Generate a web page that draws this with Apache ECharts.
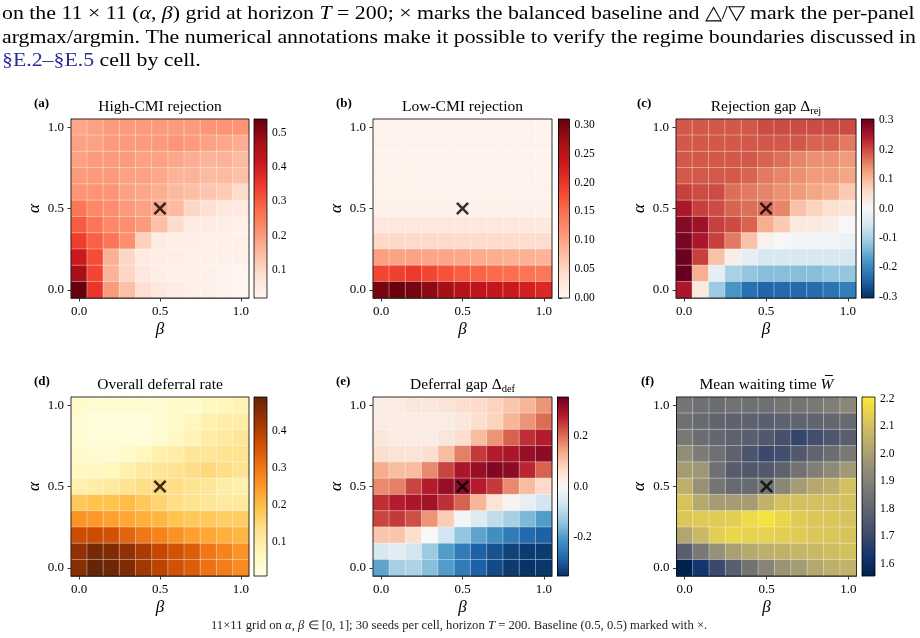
<!DOCTYPE html>
<html>
<head>
<meta charset="utf-8">
<script src="https://cdn.jsdelivr.net/npm/echarts@6/dist/echarts.min.js"></script>
<style>
  html, body { margin: 0; padding: 0; background: #fff; }
  #chart { width: 920px; height: 638px; }
</style>
</head>
<body>
<div id="chart"></div>
<script>
const ticks = ['0.0', '0.1', '0.2', '0.3', '0.4', '0.5', '0.6', '0.7', '0.8', '0.9', '1.0'];

// every matrix: rows from alpha = 1.0 (top) down to alpha = 0.0, columns beta = 0.0 .. 1.0
const highCmi = [
  [0.18, 0.19, 0.20, 0.20, 0.20, 0.20, 0.20, 0.20, 0.21, 0.21, 0.21],
  [0.19, 0.19, 0.20, 0.20, 0.20, 0.20, 0.21, 0.20, 0.19, 0.18, 0.17],
  [0.19, 0.20, 0.20, 0.20, 0.19, 0.19, 0.18, 0.17, 0.16, 0.16, 0.15],
  [0.20, 0.20, 0.20, 0.19, 0.19, 0.18, 0.16, 0.16, 0.15, 0.15, 0.14],
  [0.21, 0.21, 0.21, 0.19, 0.18, 0.17, 0.15, 0.14, 0.13, 0.12, 0.09],
  [0.26, 0.23, 0.22, 0.20, 0.19, 0.18, 0.15, 0.10, 0.08, 0.06, 0.05],
  [0.30, 0.26, 0.23, 0.22, 0.20, 0.14, 0.09, 0.05, 0.05, 0.04, 0.03],
  [0.34, 0.29, 0.26, 0.22, 0.11, 0.05, 0.04, 0.04, 0.035, 0.03, 0.03],
  [0.41, 0.32, 0.165, 0.10, 0.05, 0.04, 0.04, 0.035, 0.03, 0.03, 0.03],
  [0.47, 0.33, 0.16, 0.10, 0.06, 0.04, 0.03, 0.03, 0.03, 0.025, 0.02],
  [0.54, 0.355, 0.20, 0.14, 0.085, 0.06, 0.045, 0.035, 0.03, 0.025, 0.02]
];
const lowCmi = [
  [0.005, 0.005, 0.005, 0.005, 0.005, 0.005, 0.005, 0.005, 0.005, 0.005, 0.005],
  [0.005, 0.005, 0.005, 0.005, 0.005, 0.005, 0.005, 0.005, 0.005, 0.005, 0.005],
  [0.005, 0.005, 0.005, 0.005, 0.005, 0.005, 0.005, 0.005, 0.005, 0.005, 0.005],
  [0.006, 0.006, 0.006, 0.006, 0.006, 0.006, 0.006, 0.006, 0.006, 0.006, 0.006],
  [0.007, 0.007, 0.007, 0.007, 0.007, 0.007, 0.007, 0.007, 0.007, 0.007, 0.007],
  [0.009, 0.009, 0.009, 0.009, 0.009, 0.009, 0.009, 0.009, 0.009, 0.009, 0.009],
  [0.026, 0.026, 0.025, 0.025, 0.025, 0.025, 0.024, 0.024, 0.024, 0.023, 0.023],
  [0.046, 0.046, 0.045, 0.045, 0.045, 0.044, 0.044, 0.043, 0.043, 0.042, 0.042],
  [0.105, 0.10, 0.10, 0.098, 0.097, 0.095, 0.093, 0.09, 0.088, 0.087, 0.085],
  [0.185, 0.19, 0.195, 0.185, 0.175, 0.165, 0.16, 0.155, 0.15, 0.145, 0.14],
  [0.30, 0.306, 0.30, 0.285, 0.27, 0.255, 0.245, 0.24, 0.232, 0.225, 0.215]
];
const rejGap = [
  [0.19, 0.19, 0.19, 0.19, 0.19, 0.20, 0.20, 0.20, 0.20, 0.20, 0.20],
  [0.19, 0.19, 0.19, 0.19, 0.19, 0.19, 0.19, 0.19, 0.18, 0.18, 0.16],
  [0.19, 0.19, 0.19, 0.19, 0.19, 0.18, 0.17, 0.15, 0.14, 0.14, 0.13],
  [0.19, 0.19, 0.19, 0.19, 0.18, 0.16, 0.15, 0.14, 0.13, 0.13, 0.12],
  [0.21, 0.20, 0.20, 0.17, 0.16, 0.15, 0.14, 0.13, 0.12, 0.11, 0.08],
  [0.25, 0.21, 0.20, 0.18, 0.17, 0.17, 0.15, 0.09, 0.07, 0.05, 0.04],
  [0.28, 0.26, 0.21, 0.20, 0.18, 0.11, 0.08, 0.03, 0.03, 0.02, 0.0],
  [0.29, 0.25, 0.21, 0.16, 0.09, 0.01, 0.0, -0.01, -0.01, -0.01, -0.02],
  [0.30, 0.21, 0.09, 0.02, -0.03, -0.05, -0.05, -0.05, -0.05, -0.05, -0.05],
  [0.305, 0.11, -0.03, -0.10, -0.12, -0.13, -0.13, -0.13, -0.13, -0.12, -0.12],
  [0.25, 0.03, -0.11, -0.18, -0.23, -0.245, -0.24, -0.24, -0.235, -0.225, -0.21]
];
const deferral = [
  [0.05, 0.04, 0.04, 0.04, 0.04, 0.04, 0.05, 0.05, 0.06, 0.07, 0.08],
  [0.04, 0.03, 0.03, 0.03, 0.03, 0.04, 0.05, 0.07, 0.09, 0.10, 0.10],
  [0.04, 0.03, 0.03, 0.03, 0.03, 0.04, 0.06, 0.08, 0.10, 0.11, 0.12],
  [0.05, 0.04, 0.04, 0.05, 0.07, 0.09, 0.10, 0.12, 0.12, 0.13, 0.13],
  [0.06, 0.06, 0.07, 0.09, 0.11, 0.12, 0.13, 0.14, 0.15, 0.14, 0.13],
  [0.09, 0.10, 0.11, 0.13, 0.14, 0.15, 0.14, 0.13, 0.12, 0.10, 0.09],
  [0.18, 0.19, 0.19, 0.20, 0.18, 0.16, 0.14, 0.13, 0.12, 0.11, 0.11],
  [0.26, 0.25, 0.24, 0.23, 0.22, 0.21, 0.19, 0.18, 0.18, 0.17, 0.17],
  [0.37, 0.37, 0.36, 0.33, 0.30, 0.28, 0.26, 0.24, 0.23, 0.22, 0.21],
  [0.44, 0.47, 0.46, 0.44, 0.41, 0.38, 0.36, 0.34, 0.30, 0.28, 0.26],
  [0.45, 0.49, 0.48, 0.46, 0.42, 0.39, 0.36, 0.34, 0.31, 0.29, 0.27]
];
const defGap = [
  [0.03, 0.03, 0.04, 0.04, 0.05, 0.06, 0.07, 0.08, 0.10, 0.12, 0.16],
  [0.03, 0.03, 0.03, 0.03, 0.03, 0.04, 0.06, 0.08, 0.12, 0.16, 0.20],
  [0.04, 0.03, 0.03, 0.03, 0.04, 0.06, 0.11, 0.16, 0.21, 0.26, 0.28],
  [0.06, 0.05, 0.05, 0.06, 0.11, 0.18, 0.25, 0.28, 0.29, 0.31, 0.32],
  [0.13, 0.11, 0.11, 0.17, 0.24, 0.29, 0.31, 0.33, 0.32, 0.27, 0.21],
  [0.17, 0.18, 0.24, 0.28, 0.31, 0.32, 0.28, 0.25, 0.17, 0.11, 0.07],
  [0.26, 0.28, 0.29, 0.30, 0.26, 0.21, 0.12, 0.05, 0.01, -0.03, -0.07],
  [0.24, 0.25, 0.23, 0.16, 0.09, -0.01, -0.05, -0.09, -0.12, -0.16, -0.20],
  [0.10, 0.10, 0.06, 0.0, -0.07, -0.14, -0.19, -0.22, -0.25, -0.28, -0.29],
  [-0.06, -0.04, -0.07, -0.13, -0.20, -0.25, -0.29, -0.31, -0.33, -0.34, -0.34],
  [-0.19, -0.12, -0.11, -0.15, -0.20, -0.25, -0.29, -0.32, -0.34, -0.35, -0.345]
];
const waitTime = [
  [1.86, 1.84, 1.83, 1.85, 1.84, 1.84, 1.86, 1.86, 1.87, 1.89, 1.92],
  [1.84, 1.82, 1.80, 1.79, 1.79, 1.78, 1.79, 1.80, 1.80, 1.81, 1.82],
  [1.87, 1.83, 1.81, 1.79, 1.78, 1.76, 1.73, 1.69, 1.72, 1.75, 1.78],
  [1.94, 1.88, 1.84, 1.79, 1.74, 1.70, 1.72, 1.76, 1.80, 1.83, 1.87],
  [1.99, 1.97, 1.84, 1.77, 1.76, 1.76, 1.79, 1.85, 1.89, 1.93, 1.98],
  [2.05, 1.95, 1.86, 1.82, 1.82, 1.85, 1.92, 1.99, 2.03, 2.05, 2.10],
  [2.11, 2.03, 1.99, 1.99, 1.99, 2.06, 2.10, 2.10, 2.10, 2.10, 2.10],
  [2.12, 2.13, 2.13, 2.14, 2.17, 2.19, 2.16, 2.13, 2.12, 2.12, 2.11],
  [2.02, 2.08, 2.14, 2.16, 2.15, 2.15, 2.14, 2.13, 2.12, 2.12, 2.11],
  [1.78, 1.87, 1.95, 2.00, 2.03, 2.05, 2.06, 2.07, 2.08, 2.09, 2.10],
  [1.556, 1.63, 1.70, 1.78, 1.85, 1.91, 1.96, 1.99, 2.03, 2.05, 2.06]
];

// colour-bar tick labels per panel
const cbTicksA = [0.1, 0.2, 0.3, 0.4, 0.5];
const cbTicksB = [0.0, 0.05, 0.10, 0.15, 0.20, 0.25, 0.30];
const cbTicksC = [-0.3, -0.2, -0.1, 0.0, 0.1, 0.2, 0.3];
const cbTicksD = [0.1, 0.2, 0.3, 0.4];
const cbTicksE = [-0.2, 0.0, 0.2];
const cbTicksF = [1.6, 1.7, 1.8, 1.9, 2.0, 2.1, 2.2];

const reds = ['#fff5f0', '#fee0d2', '#fcbba1', '#fc9272', '#fb6a4a', '#ef3b2c', '#cb181d', '#a50f15', '#67000d'];
const rdbu = ['#053061', '#2166ac', '#4393c3', '#92c5de', '#d1e5f0', '#f7f7f7', '#fddbc7', '#f4a582', '#d6604d', '#b2182b', '#67001f'];
const ylorbr = ['#ffffe5', '#fff7bc', '#fee391', '#fec44f', '#fe9929', '#ec7014', '#cc4c02', '#993404', '#662506'];
const cividis = ['#00224e', '#123570', '#3b496c', '#575d6d', '#707173', '#8a8678', '#a59c74', '#c3b369', '#e1cc55', '#fee838'];

const SERIF = '"Liberation Serif", "Times New Roman", serif';
const CROSS = 'path://M0,14 L14,0 L50,36 L86,0 L100,14 L64,50 L100,86 L86,100 L50,64 L14,100 L0,86 L36,50 Z';

const panels = [
  { tag: '(a)', title: [{ t: 'High-CMI rejection' }], m: highCmi, range: [0.018, 0.54], cmap: reds, cbTicks: cbTicksA, dec: 1,
    x: 71, w: 178, y: 119, cbx: 254, cbw: 13, tagx: 34 },
  { tag: '(b)', title: [{ t: 'Low-CMI rejection' }], m: lowCmi, range: [0, 0.31], cmap: reds, cbTicks: cbTicksB, dec: 2,
    x: 373, w: 179, y: 119, cbx: 558.5, cbw: 11, tagx: 336 },
  { tag: '(c)', title: [{ t: 'Rejection gap Δ' }, { t: 'rej', sub: true }], m: rejGap, range: [-0.305, 0.305], cmap: rdbu, cbTicks: cbTicksC, dec: 1,
    x: 676, w: 180, y: 119, cbx: 861.5, cbw: 12.5, tagx: 637 },
  { tag: '(d)', title: [{ t: 'Overall deferral rate' }], m: deferral, range: [0.01, 0.49], cmap: ylorbr, cbTicks: cbTicksD, dec: 1,
    x: 71, w: 178, y: 397, cbx: 254, cbw: 13, tagx: 34 },
  { tag: '(e)', title: [{ t: 'Deferral gap Δ' }, { t: 'def', sub: true }], m: defGap, range: [-0.355, 0.355], cmap: rdbu, cbTicks: cbTicksE, dec: 1,
    x: 373, w: 179, y: 397, cbx: 557.5, cbw: 11, tagx: 336 },
  { tag: '(f)', title: [{ t: 'Mean waiting time ' }, { t: 'W', it: true, bar: true }], m: waitTime, range: [1.556, 2.207], cmap: cividis, cbTicks: cbTicksF, dec: 1,
    x: 676.5, w: 180, y: 397, cbx: 862, cbw: 13, tagx: 641 }
];

const ctx = document.createElement('canvas').getContext('2d');
function measure(text, font) {
  ctx.font = font;
  return ctx.measureText(text).width;
}

const every5 = (idx) => idx % 5 === 0;
const H = 179;
const grids = [], xAxes = [], yAxes = [], series = [], visualMaps = [], graphics = [];

panels.forEach((p) => {
  const g = grids.length;
  grids.push({ left: p.x, top: p.y, width: p.w, height: H, show: true, z: 10,
    borderColor: '#000', borderWidth: 0.8, backgroundColor: 'transparent' });
  grids.push({ left: p.cbx, top: p.y, width: p.cbw, height: H, show: true, z: 10,
    borderColor: '#000', borderWidth: 0.8, backgroundColor: 'transparent' });

  xAxes.push({
    type: 'category', gridIndex: g, data: ticks,
    axisLine: { show: true, lineStyle: { color: '#000', width: 0.8 } },
    axisTick: { show: true, alignWithLabel: true, length: 3.5, interval: every5, lineStyle: { color: '#000', width: 0.8 } },
    axisLabel: { interval: every5, color: '#000', fontFamily: SERIF, fontSize: 13, margin: 7 },
    splitLine: { show: false },
    name: 'β', nameLocation: 'middle', nameGap: 23,
    nameTextStyle: { fontFamily: SERIF, fontStyle: 'italic', fontSize: 17, color: '#000' }
  });
  xAxes.push({ type: 'value', gridIndex: g + 1, min: 0, max: 1, show: false });

  yAxes.push({
    type: 'category', gridIndex: g, data: ticks,
    axisLine: { show: true, lineStyle: { color: '#000', width: 0.8 } },
    axisTick: { show: true, alignWithLabel: true, length: 3.5, interval: every5, lineStyle: { color: '#000', width: 0.8 } },
    axisLabel: { interval: every5, color: '#000', fontFamily: SERIF, fontSize: 13, margin: 7 },
    splitLine: { show: false },
    name: 'α', nameLocation: 'middle', nameGap: 28,
    nameTextStyle: { fontFamily: SERIF, fontStyle: 'italic', fontSize: 17, color: '#000' }
  });
  yAxes.push({
    type: 'value', gridIndex: g + 1, position: 'right', min: p.range[0], max: p.range[1],
    axisLine: { show: true, lineStyle: { color: '#000', width: 0.8 } },
    axisTick: { show: true, length: 3.5, customValues: p.cbTicks, lineStyle: { color: '#000', width: 0.8 } },
    axisLabel: { customValues: p.cbTicks, formatter: (v) => Number(v).toFixed(p.dec),
      color: '#000', fontFamily: SERIF, fontSize: 11.5, margin: 5 },
    splitLine: { show: false }
  });

  const cells = [];
  p.m.forEach((row, r) => row.forEach((v, c) => cells.push([c, 10 - r, v])));

  visualMaps.push({ type: 'continuous', show: false, seriesIndex: series.length, dimension: 2,
    min: p.range[0], max: p.range[1], inRange: { color: p.cmap } });

  series.push({
    type: 'heatmap', xAxisIndex: g, yAxisIndex: g, data: cells,
    itemStyle: { borderColor: 'rgba(255,255,255,0.45)', borderWidth: 0.8 },
    emphasis: { disabled: true }
  });
  series.push({
    type: 'scatter', xAxisIndex: g, yAxisIndex: g, data: [[5, 5]], z: 5, silent: true,
    symbol: CROSS, symbolSize: 13, itemStyle: { color: '#000' }
  });
  const stops = p.cmap.map((c, k) => ({ offset: k / (p.cmap.length - 1), color: c }));
  series.push({
    type: 'custom', xAxisIndex: g + 1, yAxisIndex: g + 1, silent: true,
    data: [[0, p.range[0], p.range[1]]],
    renderItem: (params, api) => {
      const lo = api.coord([0, api.value(1)]);
      const hi = api.coord([1, api.value(2)]);
      return {
        type: 'rect',
        shape: { x: lo[0], y: hi[1], width: hi[0] - lo[0], height: lo[1] - hi[1] },
        style: { fill: new echarts.graphic.LinearGradient(0, 1, 0, 0, stops) }
      };
    }
  });

  // panel tag and title
  const cy = p.y - 12.5;
  graphics.push({ type: 'text', x: p.tagx, y: cy - 3, style: { text: p.tag, font: 'bold 13px ' + SERIF, fill: '#000', verticalAlign: 'middle' } });
  const fonts = p.title.map((t) => (t.it ? 'italic ' : '') + (t.sub ? 10.5 : 15.5) + 'px ' + SERIF);
  const widths = p.title.map((t, k) => measure(t.t, fonts[k]));
  let tx = p.x + p.w / 2 - widths.reduce((a, b) => a + b, 0) / 2;
  p.title.forEach((t, k) => {
    graphics.push({ type: 'text', x: tx, y: cy + (t.sub ? 4.5 : 0), style: { text: t.t, font: fonts[k], fill: '#000', verticalAlign: 'middle' } });
    if (t.bar) {
      graphics.push({ type: 'line', shape: { x1: tx + widths[k] * 0.35, y1: cy - 9, x2: tx + widths[k] * 0.95, y2: cy - 9 }, style: { stroke: '#000', lineWidth: 1 } });
    }
    tx += widths[k];
  });
});

// paper text above the figure
const capSize = 19.5;
const capFont = capSize + 'px ' + SERIF;
const capRich = {
  i: { fontStyle: 'italic', fontSize: capSize, fontFamily: SERIF, fill: '#000' },
  b: { fontSize: capSize, fontFamily: SERIF, fill: '#2b2b9e' }
};
const capLines = [
  ['on the 11 × 11 (α, β) grid at horizon T = 200; × marks the balanced baseline and △/▽ mark the per-panel',
   'on the 11 × 11 ({i|α}, {i|β}) grid at horizon {i|T} = 200; × marks the balanced baseline and △/▽ mark the per-panel', 14, 914],
  ['argmax/argmin. The numerical annotations make it possible to verify the regime boundaries discussed in',
   'argmax/argmin. The numerical annotations make it possible to verify the regime boundaries discussed in', 37.5, 914],
  ['§E.2–§E.5 cell by cell.', '{b|§E.2–§E.5} cell by cell.', 61, 0]
];
let lastScale = 1;
capLines.forEach(([plain, rich, y, target]) => {
  const s = target ? target / measure(plain, capFont) : lastScale;
  lastScale = s;
  graphics.push({ type: 'text', x: 2, y: y, scaleX: s,
    style: { text: rich, rich: capRich, fontSize: capSize, fontFamily: SERIF, fill: '#000', verticalAlign: 'middle' } });
});

// figure caption under the panels
const footPlain = '11×11 grid on α, β ∈ [0, 1]; 30 seeds per cell, horizon T = 200. Baseline (0.5, 0.5) marked with ×.';
const footSize = 11.5;
const footScale = 497 / measure(footPlain, footSize + 'px ' + SERIF);
graphics.push({ type: 'text', x: 211, y: 626, scaleX: footScale,
  style: { text: '11×11 grid on {i|α}, {i|β} ∈ [0, 1]; 30 seeds per cell, horizon {i|T} = 200. Baseline (0.5, 0.5) marked with ×.',
    rich: { i: { fontStyle: 'italic', fontSize: footSize, fontFamily: SERIF, fill: '#222' } },
    fontSize: footSize, fontFamily: SERIF, fill: '#222', verticalAlign: 'middle' } });

const chart = echarts.init(document.getElementById('chart'), null, { renderer: 'canvas' });
chart.setOption({
  animation: false,
  backgroundColor: '#fff',
  grid: grids,
  xAxis: xAxes,
  yAxis: yAxes,
  visualMap: visualMaps,
  series: series,
  graphic: graphics
});
</script>
</body>
</html>
